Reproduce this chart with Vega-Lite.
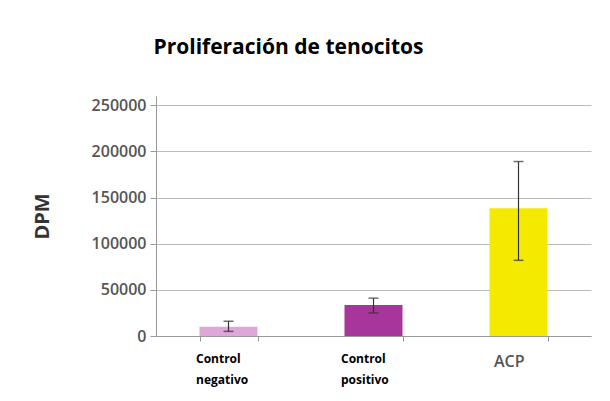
{
  "$schema": "https://vega.github.io/schema/vega-lite/v6.json",
  "autosize": "none",
  "width": 435,
  "height": 240,
  "padding": {"left": 156, "top": 96, "right": 19, "bottom": 65},
  "background": "white",
  "title": {
    "text": "Proliferación de tenocitos",
    "font": "Open Sans",
    "fontSize": 21,
    "fontWeight": "bold",
    "color": "#000",
    "anchor": "middle",
    "dx": -85,
    "offset": 38
  },
  "data": {
    "values": [
      {"grupo": "Control negativo", "dpm": 10000, "low": 5000, "high": 16000, "color": "#dfa6da"},
      {"grupo": "Control positivo", "dpm": 33500, "low": 25000, "high": 41000, "color": "#a8359c"},
      {"grupo": "ACP", "dpm": 138500, "low": 82000, "high": 189000, "color": "#f4ea00"}
    ]
  },
  "encoding": {
    "x": {
      "field": "grupo",
      "type": "nominal",
      "sort": null,
      "scale": {"paddingInner": 0.6, "paddingOuter": 0.3},
      "axis": {
        "title": null,
        "labelAngle": 0,
        "labelExpr": "split(datum.label, ' ')",
        "labelAlign": "left",
        "labelOffset": {"condition": {"test": "datum.value == 'ACP'", "value": -25}, "value": -33},
        "labelFont": "Open Sans",
        "labelFontSize": {"condition": {"test": "datum.value == 'ACP'", "value": 16}, "value": 12},
        "labelFontWeight": {"condition": {"test": "datum.value == 'ACP'", "value": 600}, "value": "bold"},
        "labelColor": {"condition": {"test": "datum.value == 'ACP'", "value": "#555"}, "value": "#000"},
        "labelPadding": 12,
        "labelLineHeight": 21,
        "tickBand": "extent",
        "tickColor": "#999",
        "tickSize": 5,
        "domainColor": "#999",
        "grid": false
      }
    }
  },
  "layer": [
    {
      "mark": {"type": "bar"},
      "encoding": {
        "y": {
          "field": "dpm",
          "type": "quantitative",
          "scale": {"domain": [0, 250000]},
          "axis": {
            "title": "DPM",
            "titleFont": "Open Sans",
            "titleFontSize": 20,
            "titleFontWeight": "bold",
            "titleColor": "#333",
            "titleX": -114,
            "titleY": 120,
            "titleAngle": -90,
            "titleBaseline": "middle",
            "values": [0, 50000, 100000, 150000, 200000, 250000],
            "format": "d",
            "labelFont": "Open Sans",
            "labelFontSize": 16,
            "labelFontWeight": 600,
            "labelColor": "#555",
            "labelPadding": 4,
            "tickColor": "#999",
            "tickSize": 6,
            "domainColor": "#999",
            "gridColor": "#bbb",
            "grid": true
          }
        },
        "color": {"field": "color", "type": "nominal", "scale": null}
      }
    },
    {
      "mark": {"type": "rule", "color": "#333", "strokeWidth": 1.2},
      "encoding": {
        "y": {"field": "low", "type": "quantitative"},
        "y2": {"field": "high"}
      }
    },
    {
      "mark": {"type": "tick", "color": "#333", "thickness": 1.5, "size": 10},
      "encoding": {"y": {"field": "low", "type": "quantitative"}}
    },
    {
      "mark": {"type": "tick", "color": "#333", "thickness": 1.5, "size": 10},
      "encoding": {"y": {"field": "high", "type": "quantitative"}}
    }
  ],
  "config": {"view": {"stroke": null}}
}
